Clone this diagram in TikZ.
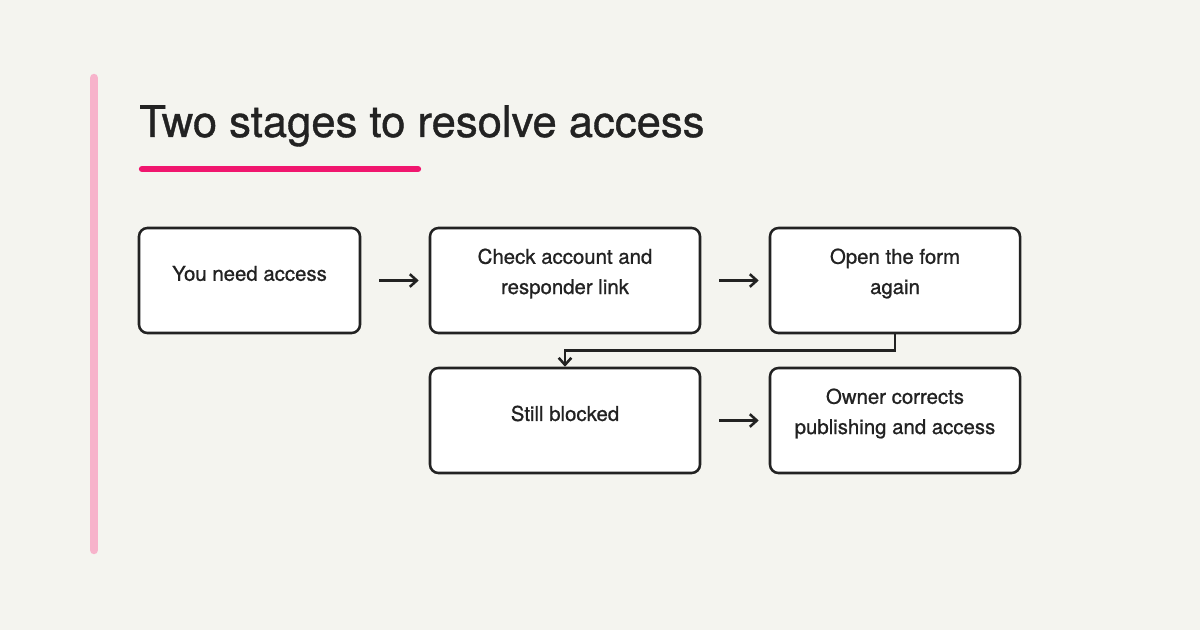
\documentclass[tikz,border=0pt]{standalone}
\usepackage{fontspec}
\setmainfont{TeX Gyre Heros}[FakeBold=0.9]
\usetikzlibrary{positioning,arrows.meta}
\definecolor{bgcol}{HTML}{F4F4EF}
\definecolor{barpink}{HTML}{F7B3CB}
\definecolor{linepink}{HTML}{F0166E}
\definecolor{ink}{HTML}{222222}
\tikzset{
  box/.style={draw=ink, line width=1.8pt, rounded corners=6pt, fill=white, inner sep=0pt},
  boxtext/.style={align=center, font=\fontsize{14.5}{21.5}\selectfont, text=ink, inner sep=0pt},
  flow/.style={draw=ink, line width=1.8pt, -{Straight Barb[length=5pt,width=9pt]}}
}
\begin{document}
\begin{tikzpicture}[x=0.025cm, y=-0.025cm]

  % Fond
  \fill[bgcol] (0,0) rectangle (1200,630);
  \useasboundingbox (0,0) rectangle (1200,630);

  % Barre et titre
  \draw[barpink, line width=6pt, line cap=round] (94,78) -- (94,550);
  \node[anchor=base west, inner sep=0pt, text=ink,
    font=\fontsize{31}{36}\selectfont] (title) at (139,137) {Two stages to resolve access};
  \draw[linepink, line width=4.5pt, line cap=round] (142,169) -- (418,169);

  % Boîtes
  \node[box, minimum width=221*0.025cm, minimum height=105*0.025cm] (need) at (249.5,280.5) {};
  \node[box, minimum width=270*0.025cm, minimum height=105*0.025cm] (check) at (565,280.5) {};
  \node[box, minimum width=250*0.025cm, minimum height=105*0.025cm] (open) at (895,280.5) {};
  \node[box, minimum width=270*0.025cm, minimum height=105*0.025cm] (blocked) at (565,420.5) {};
  \node[box, minimum width=250*0.025cm, minimum height=105*0.025cm] (owner) at (895,420.5) {};

  % Textes
  \node[boxtext] (needtxt) at ([yshift=7*0.025cm]need.center) {You need access};
  \node[boxtext] (checktxt) at ([yshift=7*0.025cm]check.center) {Check account and\\responder link};
  \node[boxtext] (opentxt) at ([yshift=7*0.025cm]open.center) {Open the form\\again};
  \node[boxtext] (blockedtxt) at ([yshift=7*0.025cm]blocked.center) {Still blocked};
  \node[boxtext] (ownertxt) at ([yshift=7*0.025cm]owner.center) {Owner corrects\\publishing and access};

  % Flèches
  \draw[flow] ([xshift=18*0.025cm]need.east) -- ([xshift=-10*0.025cm]check.west);
  \draw[flow] ([xshift=18*0.025cm]check.east) -- ([xshift=-10*0.025cm]open.west);
  \draw[flow] ([xshift=18*0.025cm]blocked.east) -- ([xshift=-10*0.025cm]owner.west);
  \draw[flow] (open.south) -- ++(0,16) -| (blocked.north);

\end{tikzpicture}
\end{document}
